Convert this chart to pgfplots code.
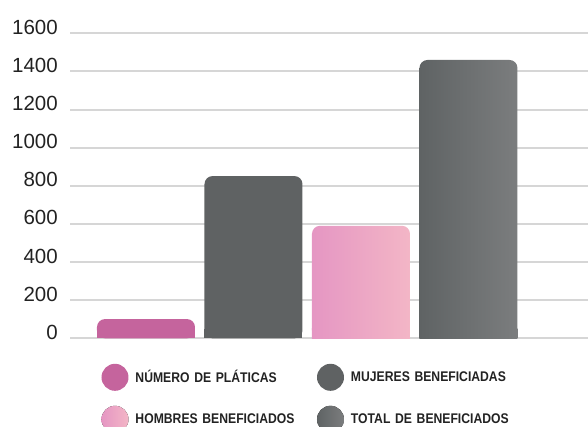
\documentclass[border=0pt]{standalone}
\usepackage{fontspec}
\setmainfont{Liberation Sans}
\newfontfamily\legfont[FakeStretch=0.87]{Liberation Sans}
\usepackage{pgfplots}
\pgfplotsset{compat=1.18}

\definecolor{platicas}{HTML}{C5649D}
\definecolor{mujeres}{HTML}{5F6263}
\definecolor{hombresA}{HTML}{E596C3}
\definecolor{hombresB}{HTML}{F3B6C6}
\definecolor{totalA}{HTML}{5F6364}
\definecolor{totalB}{HTML}{7B7D7E}
\definecolor{gridgray}{HTML}{D6D6D6}
\definecolor{txt}{HTML}{222222}

\pgfdeclarehorizontalshading{homshade}{100bp}{color(0bp)=(hombresA); color(25bp)=(hombresA); color(75bp)=(hombresB); color(100bp)=(hombresB)}
\pgfdeclarehorizontalshading{totshade}{100bp}{color(0bp)=(totalA); color(25bp)=(totalA); color(75bp)=(totalB); color(100bp)=(totalB)}

\pgfplotsset{
  barbase/.style={ybar, bar width=98pt, bar shift=0pt, draw=none},
  legcirc/.style={legend image code/.code={\fill[##1] (13.5pt,0pt) circle (13.5pt);}},
  % square base under each rounded bar, so only the top corners look round
  squarebottom/.style={forget plot, y filter/.expression={min(y,50)}},
}

\begin{document}
\begin{tikzpicture}
\useasboundingbox (0,0) rectangle (588pt,426pt);
\begin{axis}[
  at={(70pt,87.7pt)}, anchor=south west,
  scale only axis, width=518pt, height=305pt,
  xmin=-0.707, xmax=4.112, ymin=0, ymax=1600,
  axis line style={draw=none},
  major tick length=0pt,
  xtick=\empty,
  ytick={0,200,...,1600},
  ymajorgrids,
  grid style={line width=2pt, gridgray},
  /pgf/number format/assume math mode=true,
  /pgf/number format/1000 sep={},
  yticklabel style={font=\fontsize{20.5}{24}\selectfont, text=txt, inner sep=0pt, xshift=-12pt, yshift=6pt},
  legend columns=2,
  legend style={at={(0.0608,-0.0836)}, anchor=north west, draw=none, fill=none,
    inner sep=0pt, outer sep=0pt, row sep=15pt, column sep=7pt,
    nodes={inner sep=0pt, anchor=west, text width=172pt, align=left, text=txt,
      font=\legfont\bfseries\fontsize{14}{16}\selectfont},
    /tikz/every even column/.append style={column sep=9.5pt}},
]
\addplot[barbase, fill=platicas, squarebottom] coordinates {(0,101)};
\addplot[barbase, fill=platicas, rounded corners=8pt, legcirc] coordinates {(0,101)};

\addplot[barbase, fill=mujeres, squarebottom] coordinates {(1,851)};
\addplot[barbase, fill=mujeres, rounded corners=8pt, legcirc] coordinates {(1,851)};

\addplot[barbase, shading=homshade, squarebottom] coordinates {(2,590)};
\addplot[barbase, shading=homshade, rounded corners=8pt, legcirc] coordinates {(2,590)};

\addplot[barbase, shading=totshade, squarebottom] coordinates {(3,1460)};
\addplot[barbase, shading=totshade, rounded corners=8pt, legcirc] coordinates {(3,1460)};

\legend{NÚMERO DE PLÁTICAS, MUJERES BENEFICIADAS, HOMBRES BENEFICIADOS, TOTAL DE BENEFICIADOS}
\end{axis}
\end{tikzpicture}
\end{document}
